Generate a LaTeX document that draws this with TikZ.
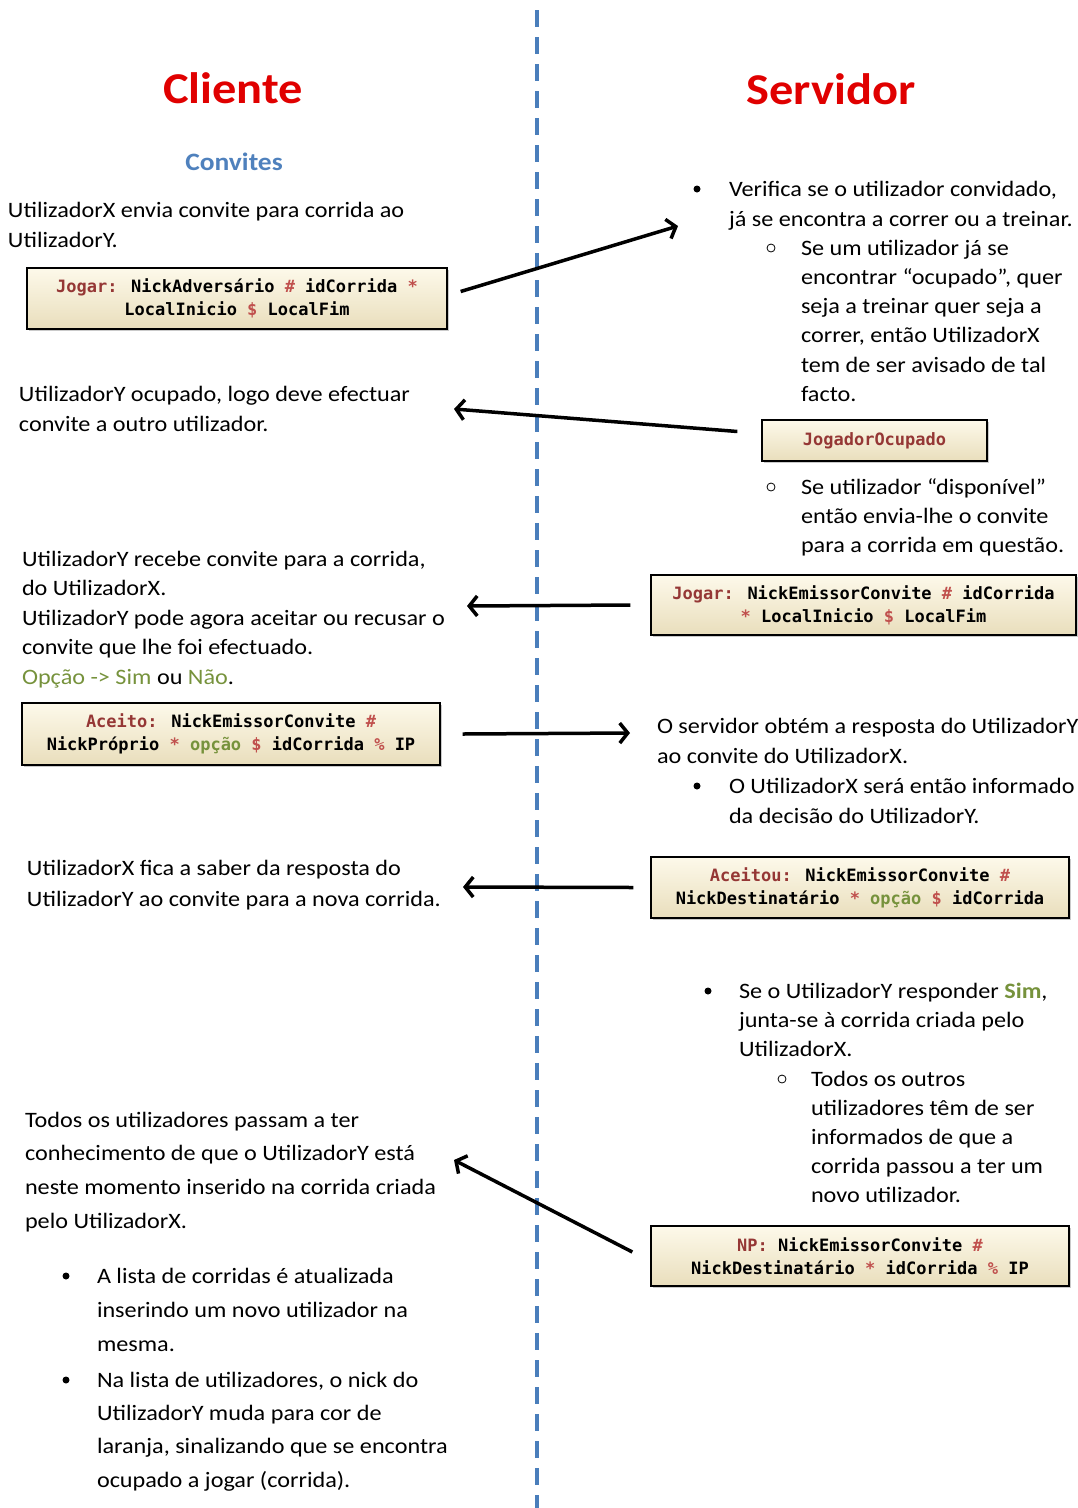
\documentclass[tikz,border=0pt]{standalone}
\usepackage{fontspec}
\setmainfont{Carlito}[FakeStretch=1.1]
\newfontfamily\codefont{DejaVu Sans Mono}
\usepackage{tikz}
\usetikzlibrary{arrows.meta,shadows}
\definecolor{titred}{RGB}{224,0,0}
\definecolor{titblue}{RGB}{79,129,189}
\definecolor{keyred}{RGB}{149,55,53}
\definecolor{symred}{RGB}{192,80,77}
\definecolor{optgreen}{RGB}{118,146,60}
\definecolor{linblue}{RGB}{74,126,187}
\definecolor{boxtop}{RGB}{253,249,234}
\definecolor{boxbot}{RGB}{233,222,188}
\newcommand{\kw}[1]{\textcolor{keyred}{#1}}
\newcommand{\sy}[1]{\textcolor{symred}{#1}}
\newcommand{\op}[1]{\textcolor{optgreen}{#1}}

\begin{document}
\begin{tikzpicture}[x=1pt, y=-1pt,
		txt/.style={anchor=north west, align=left, inner sep=0, outer sep=0, yshift=-1pt, font=\fontsize{22}{30}\selectfont},
		msg/.style={draw=black, line width=1.3pt, top color=boxtop, bottom color=boxbot, align=center, inner sep=0,
			font=\codefont\bfseries\fontsize{17}{23}\selectfont,
			drop shadow={shadow xshift=2pt, shadow yshift=-2pt, opacity=0.35, fill=black!60}},
		bul/.style={circle, fill=black, inner sep=0, minimum size=7pt},
		sub/.style={circle, draw=black, line width=0.8pt, inner sep=0, minimum size=8pt},
		msgarrow/.style={-{Straight Barb[length=8pt,width=20pt]}, line width=3.5pt}]
			
			\useasboundingbox (0,0) rectangle (1078,1508);
			
			% Linha divisoria
			\draw[linblue, line width=4pt, dash pattern=on 17pt off 10pt] (537,10) -- (537,1508);
			
			% Titulos
			\node[font=\bfseries\fontsize{44}{44}\selectfont, text=titred] (cli) at (233,88) {Cliente};
			\node[font=\bfseries\fontsize{44}{44}\selectfont, text=titred] (serv) at (831,89) {Servidor};
			\node[font=\bfseries\fontsize{25}{25}\selectfont, text=titblue] (conv) at (234,162) {Convites};
			
			% Cliente
			\node[txt] (envia) at (8,201) {UtilizadorX envia convite para corrida ao\\UtilizadorY.};
			\node[msg, minimum width=420pt, minimum height=61pt] (jogar) at (237,298.5)
			{\kw{Jogar:} NickAdversário \sy{\#} idCorrida \sy{*}\\LocalInicio \sy{\$} LocalFim};
			\node[txt] (ocupado) at (19,385) {UtilizadorY ocupado, logo deve efectuar\\convite a outro utilizador.};
			\node[txt, font=\fontsize{22}{29.5}\selectfont] (recebe) at (22,550)
			{UtilizadorY recebe convite para a corrida,\\do UtilizadorX.\\UtilizadorY pode agora aceitar ou recusar o\\convite que lhe foi efectuado.\\\op{Opção -> Sim} ou \op{Não}.};
			\node[msg, minimum width=418pt, minimum height=62pt] (aceito) at (231,734)
			{\kw{Aceito:} NickEmissorConvite \sy{\#}\\NickPróprio \sy{*} \op{opção} \sy{\$} idCorrida \sy{\%} IP};
			\node[txt, font=\fontsize{22}{31}\selectfont] (resposta) at (27,859)
			{UtilizadorX fica a saber da resposta do\\UtilizadorY ao convite para a nova corrida.};
			\node[txt, font=\fontsize{22}{33.7}\selectfont] (todos) at (25,1111)
			{Todos os utilizadores passam a ter\\conhecimento de que o UtilizadorY está\\neste momento inserido na corrida criada\\pelo UtilizadorX.};
			\node[bul] (bl1) at (66,1276) {};
			\node[txt, font=\fontsize{22}{34}\selectfont] (lista) at (97,1267)
			{A lista de corridas é atualizada\\inserindo um novo utilizador na\\mesma.};
			\node[bul] (bl2) at (66,1380) {};
			\node[txt, font=\fontsize{22}{33.3}\selectfont] (nick) at (97,1371)
			{Na lista de utilizadores, o nick do\\UtilizadorY muda para cor de\\laranja, sinalizando que se encontra\\ocupado a jogar (corrida).};
			
			% Servidor
			\node[bul] (br1) at (697,189) {};
			\node[txt] (verifica) at (729,180) {Verifica se o utilizador convidado,\\já se encontra a correr ou a treinar.};
			\node[sub] (sr1) at (771,248) {};
			\node[txt, font=\fontsize{22}{29.2}\selectfont] (seum) at (801,239)
			{Se um utilizador já se\\encontrar “ocupado”, quer\\seja a treinar quer seja a\\correr, então UtilizadorX\\tem de ser avisado de tal\\facto.};
			\node[msg, minimum width=225pt, minimum height=41pt] (jocup) at (874.5,440.5) {\kw{JogadorOcupado}};
			\node[sub] (sr2) at (771,487) {};
			\node[txt, font=\fontsize{22}{29}\selectfont] (disp) at (801,478)
			{Se utilizador “disponível”\\então envia-lhe o convite\\para a corrida em questão.};
			\node[msg, minimum width=425pt, minimum height=60pt] (jogarsv) at (863.5,605)
			{\kw{Jogar:} NickEmissorConvite \sy{\#} idCorrida\\\sy{*} LocalInicio \sy{\$} LocalFim};
			\node[txt] (obtem) at (657,717) {O servidor obtém a resposta do UtilizadorY\\ao convite do UtilizadorX.};
			\node[bul] (br2) at (697,786) {};
			\node[txt] (informa) at (729,777) {O UtilizadorX será então informado\\da decisão do UtilizadorY.};
			\node[msg, minimum width=418pt, minimum height=61pt] (aceitou) at (860,887.5)
			{\kw{Aceitou:} NickEmissorConvite \sy{\#}\\NickDestinatário \sy{*} \op{opção} \sy{\$} idCorrida};
			\node[bul] (br3) at (708,991) {};
			\node[txt, font=\fontsize{22}{29}\selectfont] (sim) at (739,982)
			{Se o UtilizadorY responder \op{\textbf{Sim}},\\junta-se à corrida criada pelo\\UtilizadorX.};
			\node[sub] (sr3) at (782,1079) {};
			\node[txt, font=\fontsize{22}{29}\selectfont] (outros) at (811,1070)
			{Todos os outros\\utilizadores têm de ser\\informados de que a\\corrida passou a ter um\\novo utilizador.};
			\node[msg, minimum width=418pt, minimum height=60pt] (np) at (860,1256)
			{\kw{NP:} NickEmissorConvite \sy{\#}\\NickDestinatário \sy{*} idCorrida \sy{\%} IP};
			
			% Setas
			\coordinate (a1) at (678,226);
			\coordinate (a2) at (454,409);
			\coordinate (a3) at (467,606);
			\coordinate (a4) at (630,733);
			\coordinate (a5) at (463,887);
			\coordinate (a6) at (454,1160);
			\draw[msgarrow] ([xshift=13pt,yshift=7pt]jogar.east) -- (a1);
			\draw[msgarrow] ([xshift=-24pt,yshift=9pt]jocup.west) -- (a2);
			\draw[msgarrow] ([xshift=-20pt]jogarsv.west) -- (a3);
			\draw[msgarrow] ([xshift=22pt]aceito.east) -- (a4);
			\draw[msgarrow] ([xshift=-17pt]aceitou.west) -- (a5);
			\draw[msgarrow] ([xshift=-18pt,yshift=4pt]np.west) -- (a6);
			
		\end{tikzpicture}
\end{document}
